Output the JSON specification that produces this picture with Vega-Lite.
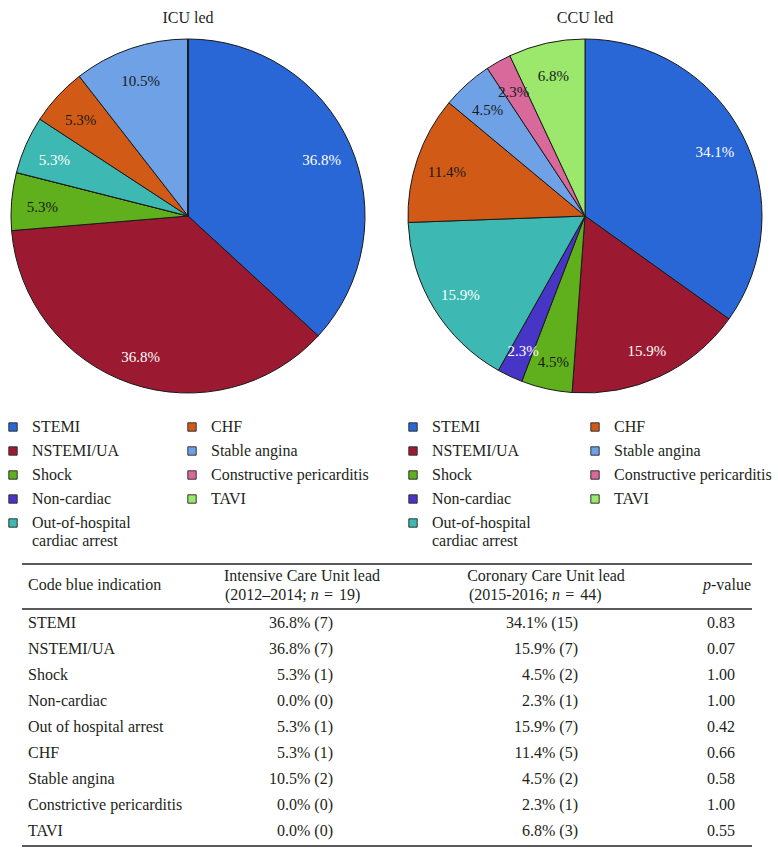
{
  "$schema": "https://vega.github.io/schema/vega-lite/v6.json",
  "background": "white",
  "padding": {"left": 5, "top": 10, "right": 0, "bottom": 0},
  "config": {
    "view": {"stroke": null},
    "font": "Liberation Serif",
    "title": {"font": "Liberation Serif", "fontSize": 16, "fontWeight": "normal", "color": "#231f20", "offset": 11},
    "text": {"font": "Liberation Serif", "fontSize": 16, "color": "#231f20"},
    "legend": {
      "title": null,
      "orient": "none",
      "columns": 2,
      "symbolType": "square",
      "symbolSize": 70,
      "symbolStrokeColor": "#333333",
      "symbolStrokeWidth": 1,
      "labelFont": "Liberation Serif",
      "labelFontSize": 16,
      "labelColor": "#231f20",
      "labelOffset": 11,
      "rowPadding": 8,
      "labelLimit": 300
    }
  },
  "datasets": {
    "icu": [
      {"k": 1, "cat": "STEMI", "n": 7, "pct": "36.8%"},
      {"k": 2, "cat": "NSTEMI/UA", "n": 7, "pct": "36.8%"},
      {"k": 3, "cat": "Shock", "n": 1, "pct": "5.3%"},
      {"k": 4, "cat": "Non-cardiac", "n": 0, "pct": "0.0%"},
      {"k": 5, "cat": "Out-of-hospital cardiac arrest", "n": 1, "pct": "5.3%"},
      {"k": 6, "cat": "CHF", "n": 1, "pct": "5.3%"},
      {"k": 7, "cat": "Stable angina", "n": 2, "pct": "10.5%"},
      {"k": 8, "cat": "Constructive pericarditis", "n": 0, "pct": "0.0%"},
      {"k": 9, "cat": "TAVI", "n": 0, "pct": "0.0%"}
    ],
    "ccu": [
      {"k": 1, "cat": "STEMI", "n": 15, "pct": "34.1%"},
      {"k": 2, "cat": "NSTEMI/UA", "n": 7, "pct": "15.9%"},
      {"k": 3, "cat": "Shock", "n": 2, "pct": "4.5%"},
      {"k": 4, "cat": "Non-cardiac", "n": 1, "pct": "2.3%"},
      {"k": 5, "cat": "Out-of-hospital cardiac arrest", "n": 7, "pct": "15.9%"},
      {"k": 6, "cat": "CHF", "n": 5, "pct": "11.4%"},
      {"k": 7, "cat": "Stable angina", "n": 2, "pct": "4.5%"},
      {"k": 8, "cat": "Constructive pericarditis", "n": 1, "pct": "2.3%"},
      {"k": 9, "cat": "TAVI", "n": 3, "pct": "6.8%"}
    ],
    "tbl": [
      {"k": 1, "ind": "STEMI", "icu": "36.8% (7)", "ccu": "34.1% (15)", "p": "0.83"},
      {"k": 2, "ind": "NSTEMI/UA", "icu": "36.8% (7)", "ccu": "15.9% (7)", "p": "0.07"},
      {"k": 3, "ind": "Shock", "icu": "5.3% (1)", "ccu": "4.5% (2)", "p": "1.00"},
      {"k": 4, "ind": "Non-cardiac", "icu": "0.0% (0)", "ccu": "2.3% (1)", "p": "1.00"},
      {"k": 5, "ind": "Out of hospital arrest", "icu": "5.3% (1)", "ccu": "15.9% (7)", "p": "0.42"},
      {"k": 6, "ind": "CHF", "icu": "5.3% (1)", "ccu": "11.4% (5)", "p": "0.66"},
      {"k": 7, "ind": "Stable angina", "icu": "10.5% (2)", "ccu": "4.5% (2)", "p": "0.58"},
      {"k": 8, "ind": "Constrictive pericarditis", "icu": "0.0% (0)", "ccu": "2.3% (1)", "p": "1.00"},
      {"k": 9, "ind": "TAVI", "icu": "0.0% (0)", "ccu": "6.8% (3)", "p": "0.55"}
    ]
  },
  "bounds": "flush",
  "spacing": 525,
  "vconcat": [
    {
      "bounds": "flush",
      "spacing": 43,
      "resolve": {"legend": {"color": "independent"}},
      "hconcat": [
        {
          "title": "ICU led",
          "width": 354,
          "height": 354,
          "data": {"name": "icu"},
          "encoding": {
            "theta": {"field": "n", "type": "quantitative", "stack": true},
            "order": {"field": "k", "type": "quantitative"}
          },
          "layer": [
            {
              "mark": {"type": "arc", "stroke": "#1a1a1a", "strokeWidth": 1},
              "encoding": {
                "color": {
                  "field": "cat", "type": "nominal",
                  "scale": {
                    "domain": ["STEMI", "NSTEMI/UA", "Shock", "Non-cardiac", "Out-of-hospital cardiac arrest", "CHF", "Stable angina", "Constructive pericarditis", "TAVI"],
                    "range": ["#2966d6", "#9b1a31", "#5fb01c", "#4735c6", "#3db8b2", "#d15a17", "#6ea1e6", "#d8699a", "#9be86c"]
                  },
                  "legend": {
                    "legendX": -6, "legendY": 380, "columnPadding": 53,
                    "labelExpr": "datum.label == 'Out-of-hospital cardiac arrest' ? ['Out-of-hospital', 'cardiac arrest'] : datum.label"
                  }
                }
              }
            },
            {
              "transform": [{"filter": "datum.n > 0"}],
              "mark": {"type": "text", "radius": 146, "fontSize": 15, "dy": 3},
              "encoding": {
                "text": {"field": "pct", "type": "nominal"},
                "detail": {"field": "cat", "type": "nominal"},
                "color": {
                  "condition": {"test": "datum.cat == 'STEMI' || datum.cat == 'NSTEMI/UA' || datum.cat == 'Out-of-hospital cardiac arrest' || datum.cat == 'Non-cardiac'", "value": "#ffffff"},
                  "value": "#1a1a1a"
                }
              }
            }
          ]
        },
        {
          "title": "CCU led",
          "width": 354,
          "height": 354,
          "data": {"name": "ccu"},
          "encoding": {
            "theta": {"field": "n", "type": "quantitative", "stack": true},
            "order": {"field": "k", "type": "quantitative"}
          },
          "layer": [
            {
              "mark": {"type": "arc", "stroke": "#1a1a1a", "strokeWidth": 1},
              "encoding": {
                "color": {
                  "field": "cat", "type": "nominal",
                  "scale": {
                    "domain": ["STEMI", "NSTEMI/UA", "Shock", "Non-cardiac", "Out-of-hospital cardiac arrest", "CHF", "Stable angina", "Constructive pericarditis", "TAVI"],
                    "range": ["#2966d6", "#9b1a31", "#5fb01c", "#4735c6", "#3db8b2", "#d15a17", "#6ea1e6", "#d8699a", "#9be86c"]
                  },
                  "legend": {
                    "legendX": -3, "legendY": 380, "columnPadding": 56,
                    "labelExpr": "datum.label == 'Out-of-hospital cardiac arrest' ? ['Out-of-hospital', 'cardiac arrest'] : datum.label"
                  }
                }
              }
            },
            {
              "transform": [{"filter": "datum.n > 0"}],
              "mark": {"type": "text", "radius": 146, "fontSize": 15, "dy": 3},
              "encoding": {
                "text": {"field": "pct", "type": "nominal"},
                "detail": {"field": "cat", "type": "nominal"},
                "color": {
                  "condition": {"test": "datum.cat == 'STEMI' || datum.cat == 'NSTEMI/UA' || datum.cat == 'Out-of-hospital cardiac arrest' || datum.cat == 'Non-cardiac'", "value": "#ffffff"},
                  "value": "#1a1a1a"
                }
              }
            }
          ]
        }
      ]
    },
    {
      "width": 741,
      "height": 282,
      "layer": [
        {
          "data": {"values": [{}]},
          "mark": {"type": "rule", "stroke": "#58595b", "strokeWidth": 2},
          "encoding": {"x": {"value": 11}, "x2": {"value": 741}, "y": {"value": 0}}
        },
        {
          "data": {"values": [{}]},
          "mark": {"type": "rule", "stroke": "#58595b", "strokeWidth": 2},
          "encoding": {"x": {"value": 11}, "x2": {"value": 741}, "y": {"value": 45}}
        },
        {
          "data": {"values": [{}]},
          "mark": {"type": "rule", "stroke": "#58595b", "strokeWidth": 2},
          "encoding": {"x": {"value": 11}, "x2": {"value": 741}, "y": {"value": 282}}
        },
        {
          "data": {"values": [{}]},
          "mark": {"type": "text", "align": "left", "baseline": "middle"},
          "encoding": {"text": {"value": "Code blue indication"}, "x": {"value": 17}, "y": {"value": 21}}
        },
        {
          "data": {"values": [{}]},
          "mark": {"type": "text", "align": "center", "baseline": "middle"},
          "encoding": {"text": {"value": "Intensive Care Unit lead"}, "x": {"value": 291}, "y": {"value": 12}}
        },
        {
          "data": {"values": [{}]},
          "mark": {"type": "text", "align": "left", "baseline": "middle"},
          "encoding": {"text": {"value": "(2012–2014;"}, "x": {"value": 214}, "y": {"value": 31}}
        },
        {
          "data": {"values": [{}]},
          "mark": {"type": "text", "align": "left", "baseline": "middle", "fontStyle": "italic"},
          "encoding": {"text": {"value": "n"}, "x": {"value": 299.8}, "y": {"value": 31}}
        },
        {
          "data": {"values": [{}]},
          "mark": {"type": "text", "align": "left", "baseline": "middle"},
          "encoding": {"text": {"value": "="}, "x": {"value": 313}, "y": {"value": 31}}
        },
        {
          "data": {"values": [{}]},
          "mark": {"type": "text", "align": "left", "baseline": "middle"},
          "encoding": {"text": {"value": "19)"}, "x": {"value": 328}, "y": {"value": 31}}
        },
        {
          "data": {"values": [{}]},
          "mark": {"type": "text", "align": "center", "baseline": "middle"},
          "encoding": {"text": {"value": "Coronary Care Unit lead"}, "x": {"value": 535}, "y": {"value": 12}}
        },
        {
          "data": {"values": [{}]},
          "mark": {"type": "text", "align": "left", "baseline": "middle"},
          "encoding": {"text": {"value": "(2015-2016;"}, "x": {"value": 458}, "y": {"value": 31}}
        },
        {
          "data": {"values": [{}]},
          "mark": {"type": "text", "align": "left", "baseline": "middle", "fontStyle": "italic"},
          "encoding": {"text": {"value": "n"}, "x": {"value": 541.1}, "y": {"value": 31}}
        },
        {
          "data": {"values": [{}]},
          "mark": {"type": "text", "align": "left", "baseline": "middle"},
          "encoding": {"text": {"value": "="}, "x": {"value": 554.3}, "y": {"value": 31}}
        },
        {
          "data": {"values": [{}]},
          "mark": {"type": "text", "align": "left", "baseline": "middle"},
          "encoding": {"text": {"value": "44)"}, "x": {"value": 569.3}, "y": {"value": 31}}
        },
        {
          "data": {"values": [{}]},
          "mark": {"type": "text", "align": "left", "baseline": "middle", "fontStyle": "italic"},
          "encoding": {"text": {"value": "p"}, "x": {"value": 692}, "y": {"value": 21}}
        },
        {
          "data": {"values": [{}]},
          "mark": {"type": "text", "align": "left", "baseline": "middle"},
          "encoding": {"text": {"value": "-value"}, "x": {"value": 700}, "y": {"value": 21}}
        },
        {
          "data": {"name": "tbl"},
          "mark": {"type": "text", "align": "left", "baseline": "middle"},
          "encoding": {
            "text": {"field": "ind", "type": "nominal"},
            "x": {"value": 17},
            "y": {"field": "k", "type": "ordinal", "scale": {"type": "point", "range": [59, 267], "padding": 0}, "axis": null}
          }
        },
        {
          "data": {"name": "tbl"},
          "mark": {"type": "text", "align": "right", "baseline": "middle"},
          "encoding": {
            "text": {"field": "icu", "type": "nominal"},
            "x": {"value": 322},
            "y": {"field": "k", "type": "ordinal", "axis": null}
          }
        },
        {
          "data": {"name": "tbl"},
          "mark": {"type": "text", "align": "right", "baseline": "middle"},
          "encoding": {
            "text": {"field": "ccu", "type": "nominal"},
            "x": {"value": 567},
            "y": {"field": "k", "type": "ordinal", "axis": null}
          }
        },
        {
          "data": {"name": "tbl"},
          "mark": {"type": "text", "align": "right", "baseline": "middle"},
          "encoding": {
            "text": {"field": "p", "type": "nominal"},
            "x": {"value": 724},
            "y": {"field": "k", "type": "ordinal", "axis": null}
          }
        }
      ]
    }
  ]
}
